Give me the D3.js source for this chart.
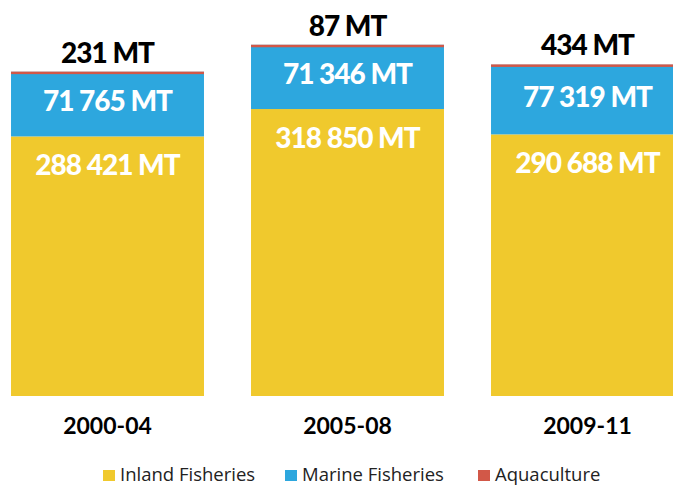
<!DOCTYPE html>
<html>
<head>
<meta charset="utf-8">
<script src="https://cdn.jsdelivr.net/npm/d3@7"></script>
<style>
  html, body { margin: 0; padding: 0; background: #fff; }
  svg { display: block; }
</style>
</head>
<body>
<svg id="chart" width="673" height="486"></svg>
<script>
const categories = ["2000-04", "2005-08", "2009-11"];
const inland = [288421, 318850, 290688];
const marine = [71765, 71346, 77319];
const aquaculture = [231, 87, 434];
const seriesNames = ["Inland Fisheries", "Marine Fisheries", "Aquaculture"];
const colors = ["#F0C92D", "#2DA7DE", "#D25848"];

const fmt = v => d3.format(",")(v).replace(/,/g, " ") + " MT";

const svg = d3.select("#chart");

const rows = categories.map((c, i) => ({
  cat: c, inland: inland[i], marine: marine[i], aquaculture: aquaculture[i]
}));
const keys = ["inland", "marine", "aquaculture"];
const stacked = d3.stack().keys(keys)(rows);

const x = d3.scaleBand().domain(categories)
  .range([-12.5, -12.5 + 3 * 240])
  .paddingInner(0.196).paddingOuter(0.098);
const y = d3.scaleLinear().domain([0, 400000]).range([396, 36]);

// bars
stacked.forEach((layer, li) => {
  svg.append("g").selectAll("rect").data(layer).join("rect")
    .attr("x", d => x(d.data.cat))
    .attr("width", x.bandwidth())
    .attr("y", d => y(d[1]))
    .attr("height", d => li === 2 ? Math.max(y(d[0]) - y(d[1]), 2.5) : y(d[0]) - y(d[1]))
    .attr("fill", colors[li]);
});

const valFont = "Lato, 'Open Sans', sans-serif";

// inland labels
svg.append("g").selectAll("text").data(stacked[0]).join("text")
  .attr("x", d => x(d.data.cat) + x.bandwidth() / 2)
  .attr("y", d => y(d[1]) + 39)
  .attr("text-anchor", "middle")
  .attr("fill", "#fff")
  .style("font-family", valFont).style("font-weight", 900)
  .style("font-size", "28px").style("letter-spacing", "-1px")
  .text(d => fmt(d.data.inland));

// marine labels
svg.append("g").selectAll("text").data(stacked[1]).join("text")
  .attr("x", d => x(d.data.cat) + x.bandwidth() / 2)
  .attr("y", d => (y(d[0]) + y(d[1])) / 2 + 7)
  .attr("text-anchor", "middle")
  .attr("fill", "#fff")
  .style("font-family", valFont).style("font-weight", 900)
  .style("font-size", "28px").style("letter-spacing", "-1px")
  .text(d => fmt(d.data.marine));

// aquaculture labels
svg.append("g").selectAll("text").data(stacked[2]).join("text")
  .attr("x", d => x(d.data.cat) + x.bandwidth() / 2)
  .attr("y", d => y(d[1]) - 9)
  .attr("text-anchor", "middle")
  .attr("fill", "#000")
  .style("font-family", valFont).style("font-weight", 900)
  .style("font-size", "28px").style("letter-spacing", "-1px")
  .text(d => fmt(d.data.aquaculture));

// category axis
const xAxis = d3.axisBottom(x).tickSize(0).tickPadding(0);
const gx = svg.append("g").attr("transform", "translate(0,396)").call(xAxis);
gx.select(".domain").remove();
gx.selectAll("text")
  .attr("y", 38).attr("dy", 0)
  .attr("fill", "#000")
  .style("font-family", "Lato, sans-serif").style("font-weight", 700)
  .style("font-size", "23px");

// legend
const legendX = [103, 285, 478];
const lg = svg.append("g").selectAll("g").data(seriesNames).join("g")
  .attr("transform", (d, i) => `translate(${legendX[i]},470)`);
lg.append("rect").attr("width", 12).attr("height", 11).attr("fill", (d, i) => colors[i]);
lg.append("text").attr("x", 17).attr("y", 11)
  .attr("fill", "#222")
  .style("font-family", "'Open Sans', sans-serif")
  .style("font-size", "18.5px")
  .text(d => d);
</script>
</body>
</html>
